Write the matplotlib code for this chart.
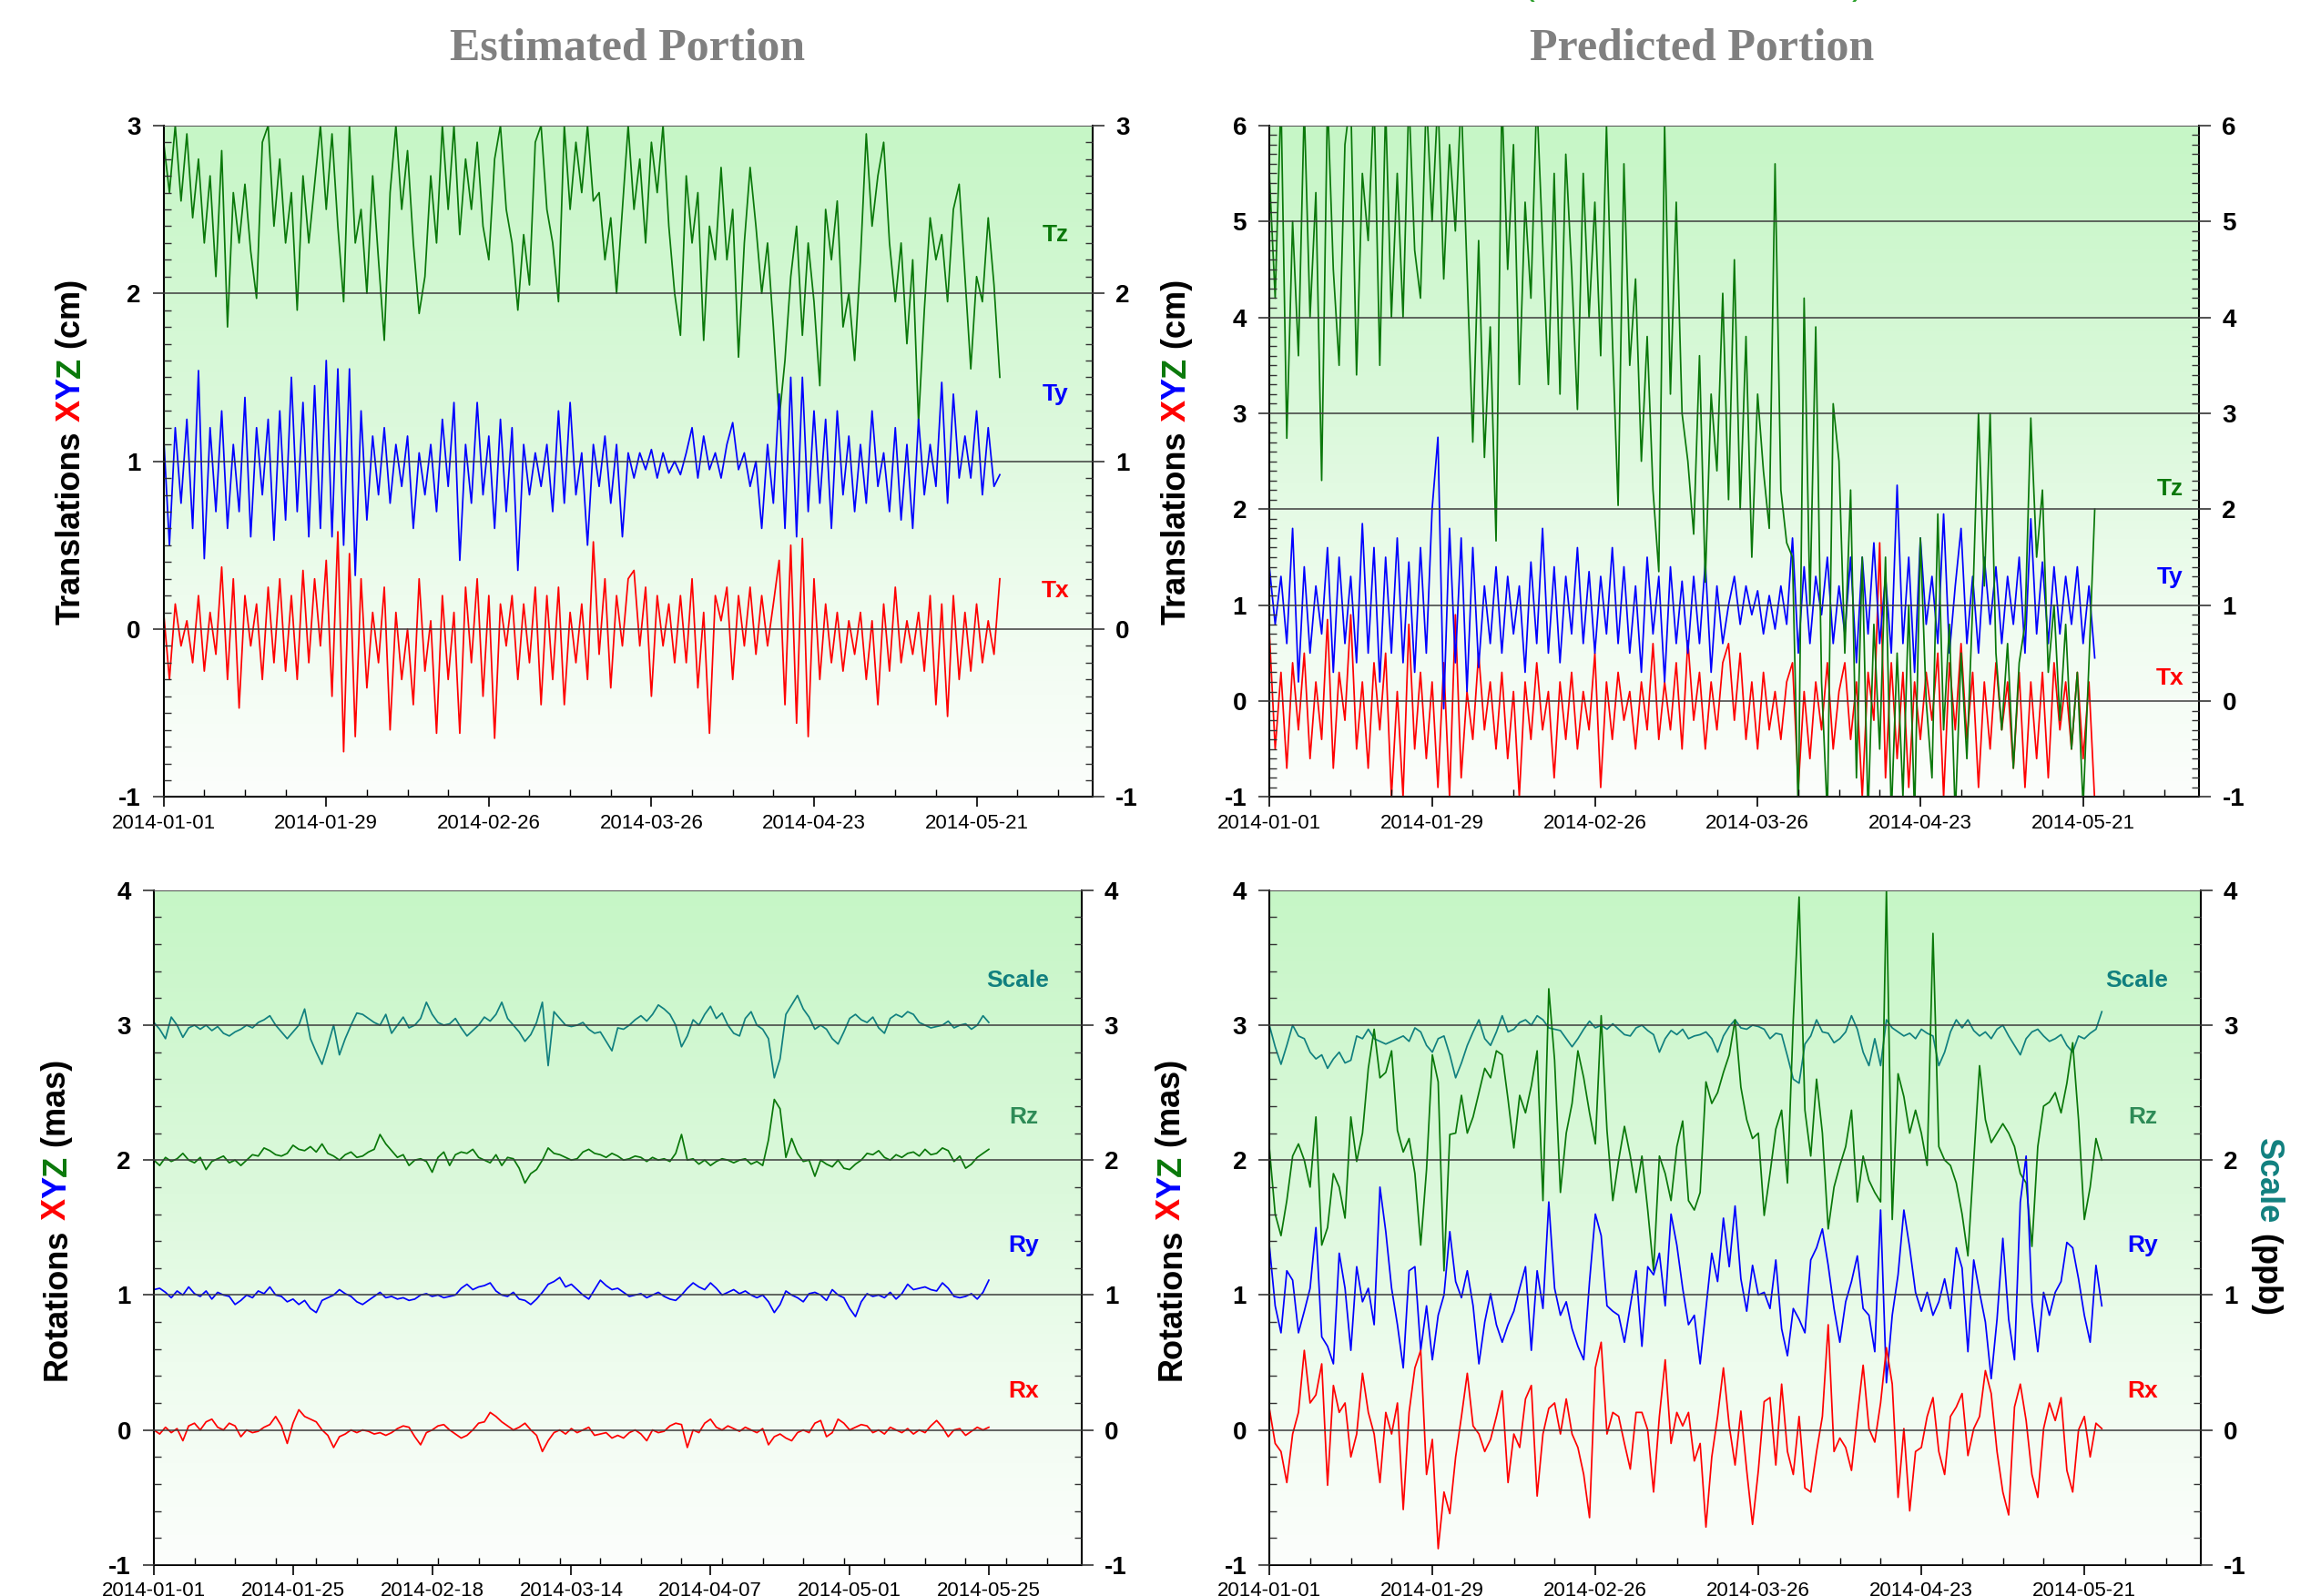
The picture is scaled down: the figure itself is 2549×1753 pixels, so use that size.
import numpy as np
import matplotlib
matplotlib.use("Agg")
import matplotlib.pyplot as plt
import matplotlib.dates as mdates
from matplotlib.colors import LinearSegmentedColormap
from matplotlib.ticker import MultipleLocator

plt.rcParams['font.family'] = ['Liberation Sans', 'DejaVu Sans']
plt.rcParams['axes.unicode_minus'] = False

START = np.datetime64('2014-01-01')

# ---- Estimated portion: translations (cm), one value per day from 2014-01-01
est_tz = [2.9, 2.6, 3.0, 2.55, 2.95, 2.45, 2.8, 2.3, 2.7, 2.1,
          2.85, 1.8, 2.6, 2.3, 2.65, 2.25, 1.97, 2.9, 3.0, 2.4,
          2.8, 2.3, 2.6, 1.9, 2.7, 2.3, 2.65, 3.0, 2.5, 2.95,
          2.4, 1.95, 3.0, 2.3, 2.5, 2.0, 2.7, 2.2, 1.72, 2.6,
          3.0, 2.5, 2.85, 2.3, 1.88, 2.1, 2.7, 2.3, 3.0, 2.5,
          3.0, 2.35, 2.8, 2.5, 2.9, 2.4, 2.2, 2.8, 3.0, 2.5,
          2.3, 1.9, 2.35, 2.05, 2.9, 3.0, 2.5, 2.3, 1.95, 3.0,
          2.5, 2.9, 2.6, 3.0, 2.55, 2.6, 2.2, 2.45, 2.0, 2.5,
          3.0, 2.5, 2.8, 2.3, 2.9, 2.6, 3.0, 2.4, 2.0, 1.75,
          2.7, 2.3, 2.6, 1.72, 2.4, 2.2, 2.75, 2.2, 2.5, 1.62,
          2.3, 2.75, 2.4, 2.0, 2.3, 1.8, 1.25, 1.6, 2.1, 2.4,
          1.75, 2.3, 1.95, 1.45, 2.5, 2.2, 2.55, 1.8, 2.0, 1.6,
          2.2, 2.95, 2.4, 2.7, 2.9, 2.3, 1.95, 2.3, 1.7, 2.2,
          1.23, 1.9, 2.45, 2.2, 2.35, 1.95, 2.5, 2.65, 2.1, 1.55,
          2.1, 1.95, 2.45, 2.05, 1.5]
est_ty = [1.15, 0.5, 1.2, 0.75, 1.25, 0.6, 1.54, 0.42, 1.2, 0.7,
          1.3, 0.6, 1.1, 0.7, 1.38, 0.55, 1.2, 0.8, 1.25, 0.53,
          1.3, 0.65, 1.5, 0.7, 1.35, 0.55, 1.45, 0.6, 1.6, 0.55,
          1.55, 0.5, 1.55, 0.32, 1.3, 0.65, 1.15, 0.8, 1.2, 0.75,
          1.1, 0.85, 1.15, 0.6, 1.05, 0.8, 1.1, 0.7, 1.25, 0.85,
          1.35, 0.41, 1.1, 0.75, 1.35, 0.8, 1.15, 0.6, 1.25, 0.7,
          1.2, 0.35, 1.1, 0.8, 1.05, 0.85, 1.1, 0.7, 1.3, 0.75,
          1.35, 0.8, 1.05, 0.5, 1.1, 0.85, 1.15, 0.75, 1.1, 0.55,
          1.05, 0.9, 1.05, 0.95, 1.07, 0.9, 1.05, 0.93, 1.0, 0.92,
          1.05, 1.2, 0.9, 1.15, 0.95, 1.05, 0.9, 1.1, 1.23, 0.95,
          1.05, 0.85, 1.0, 0.6, 1.1, 0.75, 1.4, 0.6, 1.5, 0.55,
          1.5, 0.7, 1.3, 0.75, 1.25, 0.6, 1.3, 0.8, 1.15, 0.7,
          1.1, 0.75, 1.3, 0.85, 1.05, 0.7, 1.2, 0.65, 1.1, 0.6,
          1.25, 0.8, 1.1, 0.85, 1.47, 0.75, 1.4, 0.9, 1.15, 0.9,
          1.3, 0.8, 1.2, 0.85, 0.92]
est_tx = [0.1, -0.3, 0.15, -0.1, 0.05, -0.2, 0.2, -0.25, 0.1, -0.15,
          0.37, -0.3, 0.3, -0.47, 0.2, -0.1, 0.15, -0.3, 0.25, -0.2,
          0.3, -0.25, 0.2, -0.3, 0.35, -0.2, 0.3, -0.1, 0.41, -0.4,
          0.58, -0.73, 0.45, -0.64, 0.3, -0.35, 0.1, -0.2, 0.25, -0.6,
          0.1, -0.3, 0.0, -0.45, 0.3, -0.25, 0.05, -0.62, 0.2, -0.3,
          0.1, -0.62, 0.25, -0.2, 0.3, -0.4, 0.2, -0.65, 0.15, -0.1,
          0.2, -0.3, 0.15, -0.2, 0.25, -0.45, 0.2, -0.3, 0.25, -0.45,
          0.1, -0.2, 0.15, -0.3, 0.52, -0.15, 0.3, -0.35, 0.2, -0.1,
          0.3, 0.35, -0.1, 0.25, -0.4, 0.2, -0.1, 0.15, -0.2, 0.2,
          -0.2, 0.3, -0.35, 0.1, -0.62, 0.2, 0.05, 0.25, -0.3, 0.2,
          -0.1, 0.25, -0.15, 0.2, -0.1, 0.15, 0.41, -0.45, 0.5, -0.56,
          0.54, -0.64, 0.3, -0.3, 0.15, -0.2, 0.1, -0.25, 0.05, -0.15,
          0.1, -0.3, 0.05, -0.45, 0.15, -0.25, 0.25, -0.2, 0.05, -0.15,
          0.1, -0.25, 0.2, -0.45, 0.15, -0.52, 0.2, -0.3, 0.1, -0.25,
          0.15, -0.2, 0.05, -0.15, 0.3]

# ---- Predicted portion: translations (cm)
pred_tz = [5.5, 4.2, 6.3, 2.74, 5.0, 3.6, 6.2, 4.0, 5.3, 2.3,
           6.3, 4.5, 3.5, 5.8, 6.3, 3.4, 5.5, 4.8, 6.3, 3.5,
           6.2, 4.0, 5.5, 4.0, 6.3, 4.7, 4.2, 6.3, 5.0, 6.3,
           4.4, 5.8, 4.9, 6.3, 4.5, 2.7, 4.8, 2.54, 3.9, 1.67,
           6.3, 4.5, 5.8, 3.3, 5.2, 4.2, 6.3, 4.8, 3.3, 5.5,
           3.2, 5.7, 4.5, 3.04, 5.5, 4.0, 5.2, 3.6, 6.0, 3.8,
           2.04, 5.6, 3.5, 4.4, 2.5, 3.8, 2.2, 1.35, 6.0, 3.2,
           5.2, 3.0, 2.5, 1.74, 3.6, 1.24, 3.2, 2.4, 4.25, 2.1,
           4.6, 2.0, 3.8, 1.5, 3.2, 2.4, 1.8, 5.6, 2.2, 1.65,
           1.5, -1.2, 4.2, 1.0, 3.9, 0.2, -1.2, 3.1, 2.5, 0.5,
           2.2, -0.8, 1.5, -1.2, 0.8, -0.5, 1.5, -1.2, 0.5, -1.0,
           1.0, -1.2, 1.7, 0.0, -0.8, 1.95, -0.3, 0.8, -1.2, 0.5,
           -0.6, 1.0, 3.0, 1.2, 3.0, 0.5, -0.3, 0.6, -0.7, 0.4,
           0.8, 2.95, 1.5, 2.2, 0.3, 1.0, -0.2, 0.8, -0.5, 0.3,
           -1.1, 0.4, 2.0]
pred_ty = [1.4, 0.8, 1.3, 0.6, 1.8, 0.2, 1.4, 0.5, 1.2, 0.7,
           1.6, 0.3, 1.5, 0.6, 1.3, 0.4, 1.85, 0.5, 1.6, 0.2,
           1.5, 0.5, 1.7, 0.4, 1.45, 0.3, 1.6, 0.5, 2.0, 2.75,
           -0.08, 1.8, 0.4, 1.7, 0.1, 1.6, 0.35, 1.2, 0.6, 1.4,
           0.5, 1.3, 0.7, 1.2, 0.3, 1.45, 0.6, 1.8, 0.5, 1.4,
           0.4, 1.3, 0.7, 1.6, 0.6, 1.35, 0.5, 1.3, 0.7, 1.6,
           0.6, 1.4, 0.5, 1.2, 0.3, 1.5, 0.7, 1.3, 0.2, 1.4,
           0.6, 1.25, 0.5, 1.3, 0.6, 1.45, 0.3, 1.2, 0.6, 1.0,
           1.3, 0.8, 1.2, 0.9, 1.15, 0.7, 1.1, 0.75, 1.2, 0.8,
           1.7, 0.5, 1.4, 0.6, 1.3, 0.9, 1.5, 0.6, 1.2, 0.7,
           1.5, 0.4, 1.5, 0.7, 1.65, 0.6, 1.3, 0.5, 2.25, 0.6,
           1.5, 0.3, 1.7, 0.8, 1.3, 0.6, 1.95, 0.5, 1.2, 1.8,
           0.6, 1.3, 0.5, 1.5, 0.8, 1.4, 0.6, 1.3, 0.8, 1.5,
           0.5, 1.9, 0.7, 1.45, 0.6, 1.4, 0.7, 1.3, 0.8, 1.4,
           0.6, 1.2, 0.45]
pred_tx = [0.72, -0.5, 0.3, -0.7, 0.4, -0.3, 0.5, -0.6, 0.2, -0.4,
           0.85, -0.7, 0.3, -0.2, 0.9, -0.5, 0.2, -0.7, 0.4, -0.3,
           0.5, -1.0, 0.1, -1.0, 0.8, -0.5, 0.3, -0.6, 0.2, -0.9,
           0.4, -1.0, 0.9, -0.8, 0.1, -0.4, 0.5, -0.3, 0.2, -0.5,
           0.3, -0.6, 0.1, -1.0, 0.2, -0.4, 0.4, -0.3, 0.1, -0.8,
           0.2, -0.4, 0.3, -0.5, 0.1, -0.3, 0.5, -0.9, 0.2, -0.4,
           0.3, -0.2, 0.1, -0.5, 0.2, -0.3, 0.6, -0.4, 0.2, -0.3,
           0.4, -0.5, 0.63, -0.2, 0.3, -0.5, 0.2, -0.3, 0.4, 0.6,
           -0.2, 0.5, -0.4, 0.2, -0.5, 0.3, -0.3, 0.1, -0.4, 0.2,
           0.4, -0.9, 0.1, -0.6, 0.2, -0.3, 0.4, -0.5, 0.1, 0.4,
           -0.4, 0.2, -1.0, 0.3, -0.2, 1.65, -0.8, 0.4, -0.6, 0.3,
           -0.9, 0.2, -0.4, 0.3, -0.2, 0.5, -1.0, 0.4, -0.3, 0.6,
           -0.4, 0.3, -0.9, 0.2, -0.5, 0.4, -0.3, 0.2, -0.7, 0.3,
           -0.9, 0.2, -0.6, 0.3, -0.8, 0.4, -0.3, 0.2, -0.5, 0.3,
           -0.6, 0.2, -1.05]

# ---- Estimated portion: rotations (mas) and scale (ppb)
est_scale = [3.02, 2.97, 2.9, 3.06, 3.0, 2.91, 2.98, 3.0, 2.97, 3.0,
             2.96, 2.99, 2.94, 2.92, 2.95, 2.97, 3.0, 2.98, 3.02, 3.04,
             3.07, 3.0, 2.95, 2.9, 2.95, 3.0, 3.12, 2.9, 2.8, 2.71,
             2.85, 3.0, 2.78, 2.9, 3.0, 3.09, 3.08, 3.05, 3.02, 3.0,
             3.08, 2.94, 3.0, 3.06, 2.98, 3.0, 3.05, 3.17, 3.08, 3.02,
             3.0, 3.01, 3.05, 2.98, 2.92, 2.96, 3.0, 3.06, 3.03, 3.08,
             3.17, 3.05, 3.0, 2.95, 2.88, 2.93, 3.02, 3.17, 2.7, 3.1,
             3.05, 3.0, 2.99, 3.0, 3.02, 2.97, 2.94, 2.95, 2.88, 2.81,
             2.98, 2.97, 3.0, 3.04, 3.07, 3.03, 3.08, 3.15, 3.12, 3.08,
             3.0, 2.84, 2.92, 3.04, 3.0, 3.08, 3.14, 3.05, 3.09, 3.0,
             2.94, 2.92, 3.05, 3.1, 3.0, 2.97, 2.9, 2.61, 2.75, 3.08,
             3.15, 3.22, 3.12, 3.06, 2.97, 3.0, 2.97, 2.9, 2.86, 2.95,
             3.05, 3.08, 3.04, 3.02, 3.06, 2.98, 2.94, 3.05, 3.08, 3.06,
             3.1, 3.08, 3.02, 3.0, 2.98, 2.99, 3.0, 3.03, 2.98, 3.0,
             3.01, 2.97, 3.0, 3.07, 3.02]
est_rz = [2.0, 1.96, 2.02, 1.99, 2.01, 2.05, 2.0, 1.98, 2.02, 1.93,
          1.99, 2.01, 2.03, 1.98, 2.0, 1.96, 2.0, 2.04, 2.03, 2.09,
          2.07, 2.04, 2.03, 2.05, 2.11, 2.08, 2.07, 2.1, 2.06, 2.12,
          2.05, 2.03, 2.0, 2.04, 2.06, 2.02, 2.03, 2.06, 2.08, 2.19,
          2.12, 2.07, 2.02, 2.04, 1.96, 2.0, 2.01, 1.99, 1.91, 2.02,
          2.06, 1.96, 2.04, 2.06, 2.05, 2.08, 2.02, 2.0, 1.98, 2.04,
          1.96, 2.02, 2.01, 1.94, 1.83, 1.9, 1.93, 2.0, 2.09, 2.05,
          2.04, 2.02, 2.0, 2.01, 2.06, 2.08, 2.05, 2.04, 2.02, 2.05,
          2.03, 2.0, 2.01, 2.03, 2.02, 1.99, 2.02, 2.0, 2.01, 1.99,
          2.05, 2.19, 2.0, 2.01, 1.97, 2.0, 1.96, 1.99, 2.01, 2.0,
          1.98, 2.0, 2.01, 1.97, 1.99, 1.96, 2.15, 2.45, 2.38, 2.02,
          2.16, 2.05, 1.99, 2.0, 1.88, 2.0, 1.97, 1.95, 2.0, 1.94,
          1.93, 1.97, 2.0, 2.05, 2.04, 2.07, 2.02, 2.0, 2.04, 2.02,
          2.05, 2.06, 2.03, 2.08, 2.04, 2.05, 2.09, 2.07, 1.99, 2.03,
          1.94, 1.97, 2.02, 2.05, 2.08]
est_ry = [1.04, 1.05, 1.02, 0.98, 1.03, 1.0, 1.06, 1.01, 0.99, 1.03,
          0.97, 1.02, 1.0, 0.99, 0.93, 0.96, 1.0, 0.98, 1.03, 1.01,
          1.06, 1.0, 0.99, 0.95, 0.97, 0.93, 0.96, 0.9, 0.87, 0.96,
          0.98, 1.0, 1.04, 1.01, 0.99, 0.95, 0.93, 0.96, 0.99, 1.02,
          0.98, 0.99, 0.97, 0.98, 0.96, 0.97, 1.0, 1.01, 0.99, 1.0,
          0.98, 0.99, 1.0, 1.05, 1.08, 1.04, 1.06, 1.07, 1.09, 1.03,
          1.0, 0.99, 1.02, 0.97, 0.96, 0.93, 0.97, 1.02, 1.08, 1.1,
          1.13, 1.06, 1.08, 1.04, 1.0, 0.97, 1.04, 1.11, 1.07, 1.04,
          1.05, 1.02, 0.99, 1.0, 1.01, 0.98, 1.0, 1.02, 0.99, 0.97,
          0.96, 1.0, 1.05, 1.09, 1.06, 1.04, 1.09, 1.05, 1.0, 1.02,
          1.04, 1.01, 1.03, 1.0, 0.98, 1.0, 0.95, 0.87, 0.93, 1.03,
          1.0, 0.98, 0.95, 1.01, 1.02, 1.0, 0.96, 1.04, 1.0, 0.98,
          0.9, 0.84, 0.95, 1.01, 0.99, 1.0, 0.98, 1.02, 0.97, 1.01,
          1.08, 1.04, 1.05, 1.06, 1.04, 1.03, 1.09, 1.05, 0.99, 0.98,
          0.99, 1.01, 0.97, 1.02, 1.11]
est_rx = [0.0, -0.03, 0.02, -0.02, 0.01, -0.08, 0.03, 0.05, 0.0, 0.06,
          0.08, 0.02, 0.0, 0.05, 0.03, -0.05, 0.0, -0.02, -0.01, 0.02,
          0.04, 0.1, 0.03, -0.1, 0.05, 0.15, 0.1, 0.08, 0.06, 0.0,
          -0.04, -0.13, -0.05, -0.03, 0.0, -0.02, 0.0, -0.01, -0.03, -0.02,
          -0.04, -0.02, 0.01, 0.03, 0.02, -0.05, -0.11, -0.02, 0.0, 0.03,
          0.04, 0.0, -0.03, -0.06, -0.04, 0.0, 0.05, 0.06, 0.13, 0.1,
          0.06, 0.03, 0.0, 0.02, 0.05, 0.0, -0.04, -0.16, -0.08, -0.02,
          0.0, -0.03, 0.01, -0.02, 0.0, 0.02, -0.04, -0.03, -0.02, -0.06,
          -0.04, -0.06, -0.02, 0.0, -0.03, -0.08, 0.0, -0.02, -0.01, 0.03,
          0.05, 0.04, -0.13, 0.0, -0.02, 0.05, 0.08, 0.02, 0.0, 0.03,
          0.01, -0.01, 0.02, 0.0, -0.02, 0.01, -0.11, -0.05, -0.03, -0.06,
          -0.08, -0.02, 0.0, -0.02, 0.05, 0.07, -0.05, -0.02, 0.08, 0.05,
          0.0, 0.02, 0.04, 0.03, -0.02, 0.0, -0.03, 0.02, 0.0, -0.02,
          0.01, -0.03, 0.0, -0.02, 0.03, 0.07, 0.02, -0.05, 0.0, 0.01,
          -0.04, -0.01, 0.02, 0.0, 0.02]

# ---- Predicted portion: rotations (mas) and scale (ppb)
pred_scale = [3.0, 2.84, 2.71, 2.85, 3.0, 2.92, 2.9, 2.8, 2.75, 2.78,
              2.68, 2.75, 2.8, 2.72, 2.74, 2.92, 2.9, 2.97, 2.9, 2.88,
              2.86, 2.88, 2.9, 2.92, 2.88, 2.98, 2.95, 2.85, 2.8, 2.9,
              2.92, 2.78, 2.61, 2.72, 2.85, 2.95, 3.04, 2.9, 2.85, 2.95,
              3.07, 2.95, 2.97, 3.02, 3.04, 3.0, 3.07, 3.04, 2.98, 2.97,
              2.96, 2.9, 2.84, 2.9, 2.97, 3.03, 2.98, 3.0, 2.97, 3.01,
              2.97, 2.93, 2.92, 2.98, 3.0, 2.96, 2.93, 2.8, 2.9, 2.96,
              2.93, 2.97, 2.9, 2.92, 2.93, 2.95, 2.9, 2.8, 2.92, 2.99,
              3.04, 2.98, 2.97, 3.0, 2.99, 2.97, 2.9, 2.94, 2.93, 2.77,
              2.6, 2.57, 2.86, 2.92, 3.04, 2.95, 2.94, 2.87, 2.9, 2.95,
              3.07, 2.97, 2.8, 2.7, 2.9, 2.7, 3.04, 2.98, 2.95, 2.92,
              2.94, 2.9, 2.97, 2.94, 2.92, 2.7, 2.8, 2.95, 3.04, 2.98,
              3.04, 2.96, 2.92, 2.95, 2.9, 2.97, 3.0, 2.92, 2.85, 2.78,
              2.9, 2.95, 2.97, 2.92, 2.88, 2.9, 2.93, 2.85, 2.8, 2.92,
              2.9, 2.94, 2.97, 3.1]
pred_rz = [2.09, 1.6, 1.44, 1.7, 2.03, 2.12, 2.0, 1.8, 2.32, 1.37,
           1.5, 1.9, 1.8, 1.57, 2.32, 1.99, 2.2, 2.68, 2.97, 2.61,
           2.65, 2.81, 2.22, 2.06, 2.16, 1.9, 1.37, 1.93, 2.78, 2.58,
           1.18, 2.19, 2.2, 2.48, 2.2, 2.32, 2.5, 2.68, 2.61, 2.81,
           2.78, 2.45, 2.09, 2.48, 2.35, 2.55, 2.81, 1.7, 3.27, 2.74,
           1.76, 2.2, 2.42, 2.81, 2.61, 2.35, 2.12, 3.07, 2.22, 1.7,
           2.0, 2.25, 2.03, 1.76, 2.03, 1.63, 1.18, 2.03, 1.9, 1.7,
           2.1, 2.29, 1.7, 1.63, 1.76, 2.58, 2.42, 2.5, 2.65, 2.78,
           3.04, 2.54, 2.3, 2.16, 2.2, 1.59, 1.9, 2.23, 2.37, 1.83,
           3.04, 3.95, 2.37, 2.03, 2.6, 2.2, 1.49, 1.8, 1.96, 2.1,
           2.37, 1.69, 2.03, 1.85, 1.76, 1.69, 4.0, 1.56, 2.64, 2.47,
           2.2, 2.37, 2.2, 1.96, 3.68, 2.1, 2.0, 1.96, 1.83, 1.6,
           1.29, 2.0, 2.7, 2.3, 2.13, 2.2, 2.27, 2.2, 2.1, 1.9,
           1.83, 1.36, 2.1, 2.4, 2.43, 2.5, 2.35, 2.57, 2.87, 2.3,
           1.56, 1.8, 2.16, 2.0]
pred_ry = [1.37, 0.92, 0.72, 1.18, 1.11, 0.72, 0.88, 1.05, 1.5, 0.69,
           0.62, 0.49, 1.31, 1.05, 0.59, 1.21, 0.95, 1.05, 0.78, 1.8,
           1.47, 1.05, 0.78, 0.46, 1.18, 1.21, 0.59, 0.92, 0.52, 0.85,
           1.0, 1.47, 1.1, 0.98, 1.18, 0.92, 0.49, 0.8, 1.01, 0.78,
           0.65, 0.78, 0.88, 1.05, 1.21, 0.59, 1.18, 0.9, 1.69, 1.05,
           0.85, 0.95, 0.75, 0.62, 0.52, 1.1, 1.6, 1.44, 0.92, 0.88,
           0.85, 0.65, 0.92, 1.18, 0.62, 1.21, 1.15, 1.31, 0.92, 1.6,
           1.37, 1.05, 0.78, 0.85, 0.49, 0.9, 1.31, 1.1, 1.57, 1.21,
           1.66, 1.12, 0.88, 1.22, 1.0, 1.02, 0.9, 1.26, 0.75, 0.55,
           0.9, 0.82, 0.72, 1.26, 1.35, 1.49, 1.22, 0.9, 0.65, 0.95,
           1.1, 1.29, 0.9, 0.85, 0.58, 1.63, 0.35, 0.85, 1.15, 1.63,
           1.35, 1.02, 0.88, 1.02, 0.85, 0.95, 1.12, 0.9, 1.35, 1.2,
           0.58, 1.26, 1.02, 0.8, 0.38, 0.82, 1.42, 0.82, 0.52, 1.69,
           2.03, 0.95, 0.58, 1.02, 0.85, 1.02, 1.1, 1.39, 1.35, 1.12,
           0.85, 0.65, 1.22, 0.92]
pred_rx = [0.16, -0.1, -0.16, -0.39, -0.03, 0.13, 0.59, 0.2, 0.26, 0.49,
           -0.41, 0.33, 0.13, 0.2, -0.2, -0.03, 0.42, 0.13, -0.03, -0.39,
           0.13, -0.03, 0.2, -0.59, 0.13, 0.46, 0.59, -0.33, -0.07, -0.88,
           -0.46, -0.62, -0.2, 0.1, 0.42, 0.03, -0.03, -0.16, -0.07, 0.1,
           0.29, -0.39, -0.03, -0.13, 0.23, 0.33, -0.49, -0.03, 0.16, 0.2,
           -0.03, 0.23, -0.03, -0.13, -0.33, -0.65, 0.46, 0.65, -0.03, 0.13,
           0.1, -0.1, -0.29, 0.13, 0.13, 0.0, -0.46, 0.1, 0.52, -0.1,
           0.13, 0.03, 0.13, -0.23, -0.1, -0.72, -0.2, 0.1, 0.46, 0.03,
           -0.26, 0.14, -0.3, -0.7, -0.3, 0.21, 0.24, -0.26, 0.34, -0.16,
           -0.33, 0.1, -0.43, -0.46, -0.16, 0.1, 0.78, -0.16, -0.06, -0.13,
           -0.3, 0.1, 0.48, 0.01, -0.09, 0.2, 0.61, 0.34, -0.5, 0.01,
           -0.6, -0.16, -0.13, 0.1, 0.24, -0.16, -0.33, 0.1, 0.17, 0.27,
           -0.19, 0.01, 0.1, 0.44, 0.27, -0.16, -0.46, -0.63, 0.17, 0.34,
           0.07, -0.33, -0.5, 0.01, 0.2, 0.07, 0.24, -0.3, -0.46, 0.0,
           0.1, -0.2, 0.05, 0.01]

GREEN = '#0a780a'
BLUE = '#0000ff'
RED = '#ff0000'
TEAL = '#11807f'
RZ_LAB = '#2e8b57'

bg_cmap = LinearSegmentedColormap.from_list(
    'bg', [(0.0, '#fcfefc'), (0.3, '#eefcee'), (0.55, '#dcf9dc'), (1.0, '#c6f6c6')])

fig = plt.figure(figsize=(25.49, 17.53), dpi=100)


def days(n):
    return START + np.arange(n).astype('timedelta64[D]')


def panel(rect, ylo, yhi, yminor, xstep, series, labels):
    bgax = fig.add_axes(rect, zorder=0)
    bgax.imshow(np.linspace(0, 1, 256).reshape(-1, 1), cmap=bg_cmap, origin='lower',
                aspect='auto', extent=[0, 1, 0, 1])
    bgax.axis('off')
    ax = fig.add_axes(rect, zorder=1)
    ax.set_facecolor('none')
    for vals, col in series:
        ax.plot(days(len(vals)), vals, color=col, lw=1.25, zorder=2)
    x0 = mdates.date2num(START)
    ax.set_xlim(x0, x0 + 160)
    ax.set_ylim(ylo, yhi)
    ax.set_xticks([x0 + k for k in range(0, 161, xstep)])
    ax.set_xticks([x0 + k for k in range(0, 161, 7)], minor=True)
    ax.xaxis.set_major_formatter(mdates.DateFormatter('%Y-%m-%d'))
    yt = list(range(ylo, yhi + 1))
    ax.set_yticks(yt)
    ax.set_yticklabels([str(v) for v in yt], fontweight='bold')
    ax.yaxis.set_minor_locator(MultipleLocator(yminor))
    ax.set_axisbelow(False)
    ax.grid(axis='y', which='major', color='#3c3c3c', lw=1.1)
    ax.tick_params(axis='y', which='major', direction='out', length=9, width=1.2,
                   color='#333333', labelsize=20, pad=9, left=True, right=True,
                   labelleft=True, labelright=True)
    ax.tick_params(axis='y', which='minor', direction='in', length=6, width=1.0,
                   color='#333333', left=True, right=True)
    ax.tick_params(axis='x', which='major', direction='out', length=8, width=1.2,
                   labelsize=16, pad=5, top=False)
    ax.tick_params(axis='x', which='minor', direction='in', length=6, width=1.0, top=False)
    for s in ['left', 'right', 'bottom']:
        ax.spines[s].set_color('black')
        ax.spines[s].set_linewidth(1.5)
    ax.spines['top'].set_color('#b0b0b0')
    for txt, d, y, col in labels:
        ax.text(x0 + d, y, txt, color=col, fontsize=19, fontweight='bold',
                ha='center', va='center', zorder=4)
    return ax


panel([0.0705, 0.5006, 0.4003, 0.4208], -1, 3, 0.1, 28,
      [(est_tz, GREEN), (est_ty, BLUE), (est_tx, RED)],
      [('Tz', 153.6, 2.35, GREEN), ('Ty', 153.6, 1.40, BLUE), ('Tx', 153.6, 0.23, RED)])
panel([0.5469, 0.5006, 0.4007, 0.4208], -1, 6, 0.1, 28,
      [(pred_tx, RED), (pred_ty, BLUE), (pred_tz, GREEN)],
      [('Tz', 155, 2.21, GREEN), ('Ty', 155, 1.29, BLUE), ('Tx', 155, 0.24, RED)])
panel([0.0663, 0.0195, 0.3997, 0.4227], -1, 4, 0.2, 24,
      [(est_scale, TEAL), (est_rz, GREEN), (est_ry, BLUE), (est_rx, RED)],
      [('Scale', 149, 3.33, TEAL), ('Rz', 150, 2.32, RZ_LAB),
       ('Ry', 150, 1.37, BLUE), ('Rx', 150, 0.29, RED)])
panel([0.5469, 0.0195, 0.4013, 0.4227], -1, 4, 0.2, 28,
      [(pred_scale, TEAL), (pred_rz, GREEN), (pred_ry, BLUE), (pred_rx, RED)],
      [('Scale', 149, 3.33, TEAL), ('Rz', 150, 2.32, RZ_LAB),
       ('Ry', 150, 1.37, BLUE), ('Rx', 150, 0.29, RED)])


def color_label(xc, yc, parts, rotation=90):
    W, H = fig.bbox.width, fig.bbox.height
    texts = [fig.text(xc / W, 0, s, color=c, fontsize=26, fontweight='bold',
                      rotation=rotation, ha='center',
                      va='bottom' if rotation == 90 else 'top') for s, c in parts]
    r = fig.canvas.get_renderer()
    hs = [t.get_window_extent(r).height / H for t in texts]
    total = sum(hs)
    y = 1 - yc / H
    if rotation == 90:
        y -= total / 2
        for t, h in zip(texts, hs):
            t.set_y(y)
            y += h
    else:
        y += total / 2
        for t, h in zip(texts, hs):
            t.set_y(y)
            y -= h


trans_parts = [('Translations', 'black'), (' X', RED), ('Y', BLUE), ('Z', GREEN), (' (cm)', 'black')]
rot_parts = [('Rotations', 'black'), (' X', RED), ('Y', BLUE), ('Z', GREEN), (' (mas)', 'black')]
color_label(78, 496, trans_parts)
color_label(1292, 496, trans_parts)
color_label(63, 1340, rot_parts)
color_label(1287, 1340, rot_parts)
color_label(2490, 1347, [('Scale', TEAL), (' (ppb)', 'black')], rotation=270)

fig.text(689 / 2549, 1 - 53 / 1753, 'Estimated Portion', ha='center', va='center',
         fontsize=36, fontweight='bold', family='Liberation Serif', color='#808080')
fig.text(1869 / 2549, 1 - 53 / 1753, 'Predicted Portion', ha='center', va='center',
         fontsize=36, fontweight='bold', family='Liberation Serif', color='#808080')
# bracket tips peeking in at the very top edge, as in the source image
fig.text(1678 / 2549, 1.004, '(', ha='center', va='baseline', fontsize=30, color='#2ca02c')
fig.text(2041 / 2549, 1.004, ')', ha='center', va='baseline', fontsize=30, color='#2ca02c')

fig.savefig('out.png', dpi=100)
